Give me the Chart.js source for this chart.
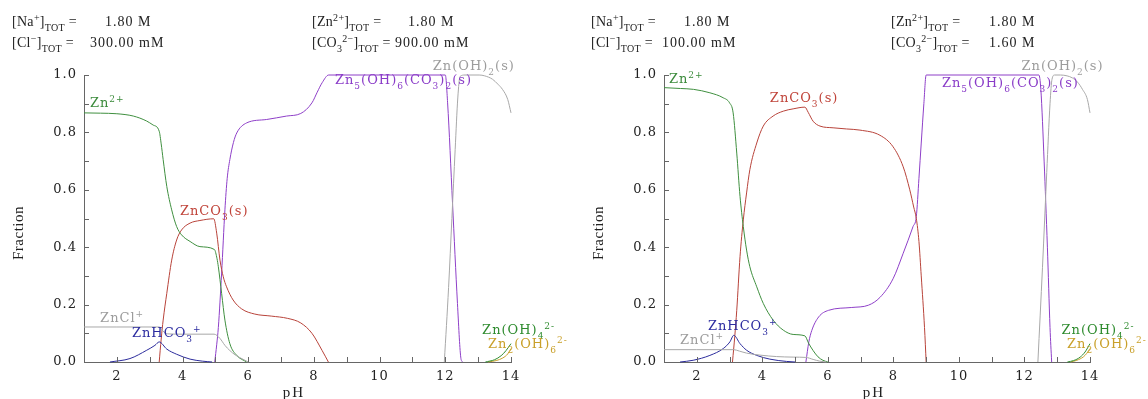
<!DOCTYPE html>
<html><head><meta charset="utf-8">
<script src="https://cdn.jsdelivr.net/npm/chart.js@4.4.0/dist/chart.umd.min.js"></script>
<style>
html,body{margin:0;padding:0;background:#fff;overflow:hidden;width:1148px;height:399px;}
.c{position:absolute;top:0;height:399px;}
</style></head><body>
<div class="c" style="left:0;width:574px"><canvas id="left" width="574" height="399"></canvas></div>
<div class="c" style="left:580px;width:568px"><canvas id="right" width="568" height="399"></canvas></div>
<script>
// ---------- tick labels ----------
const xTickLabels = [2, 4, 6, 8, 10, 12, 14];
const yTickLabels = [0.0, 0.2, 0.4, 0.6, 0.8, 1.0];

// ---------- header values ----------
const leftHeaderValues  = ['1.80 M', '300.00 mM', '1.80 M', '900.00 mM'];
const rightHeaderValues = ['1.80 M', '100.00 mM', '1.80 M', '1.60 M'];

// ---------- left chart series: [pH, fraction] ----------
const L_Zn2 = [[1,0.868],[1.5,0.867],[2,0.865],[2.5,0.857],[2.9,0.84],[3.1,0.826],[3.29,0.804],[3.35,0.76],[3.41,0.705],[3.52,0.612],[3.67,0.53],[3.82,0.472],[3.97,0.443],[4.23,0.42],[4.53,0.402],[4.97,0.392],[5.05,0.36],[5.09,0.332],[5.19,0.239],[5.29,0.146],[5.44,0.064],[5.65,0.023],[5.95,0]];
const L_ZnCO3 = [[3.29,0],[3.35,0.08],[3.41,0.146],[3.52,0.239],[3.67,0.355],[3.82,0.425],[3.97,0.46],[4.23,0.484],[4.53,0.493],[4.95,0.499],[5.04,0.449],[5.14,0.355],[5.24,0.297],[5.34,0.262],[5.54,0.216],[5.8,0.185],[6.2,0.167],[6.7,0.16],[7.2,0.152],[7.6,0.136],[7.94,0.1],[8.25,0.04],[8.44,0]];
const L_Zn5 = [[4.98,0],[5.04,0.06],[5.09,0.12],[5.19,0.31],[5.29,0.53],[5.36,0.64],[5.44,0.705],[5.55,0.765],[5.65,0.798],[5.95,0.833],[6.56,0.845],[7.17,0.857],[7.6,0.866],[7.94,0.903],[8.1,0.94],[8.25,0.973],[8.45,1.0],[12.0,1.0],[12.07,0.903],[12.22,0.553],[12.37,0.204],[12.47,0.017],[12.52,0]];
const L_ZnOH2s = [[11.97,0],[12.1,0.26],[12.2,0.5],[12.3,0.74],[12.38,0.92],[12.45,0.995],[12.6,1.0],[13.03,1.0],[13.2,0.997],[13.44,0.985],[13.6,0.968],[13.74,0.95],[13.9,0.915],[14,0.868]];
const L_ZnCl = [[1,0.122],[2,0.122],[3.29,0.122],[3.4,0.108],[3.55,0.098],[4,0.097],[4.96,0.097],[5.14,0.082],[5.29,0.058],[5.44,0.04],[5.6,0.025],[5.75,0.015],[6.0,0]];
const L_ZnHCO3 = [[1.79,0],[2.4,0.012],[2.91,0.041],[3.16,0.058],[3.29,0.07],[3.52,0.045],[3.82,0.027],[4.23,0.01],[4.6,0.003],[4.9,0]];
const L_ZnOH4 = [[13.22,0],[13.5,0.008],[13.7,0.022],[13.85,0.04],[14,0.064]];
const L_Zn2OH6 = [[13.3,0],[13.55,0.005],[13.75,0.014],[13.9,0.028],[14,0.047]];

// ---------- right chart series ----------
const R_Zn2 = [[1,0.956],[1.5,0.953],[1.9,0.95],[2.4,0.938],[2.8,0.921],[3.0,0.903],[3.11,0.868],[3.22,0.728],[3.32,0.577],[3.42,0.472],[3.52,0.39],[3.62,0.332],[3.83,0.262],[4.03,0.204],[4.33,0.146],[4.64,0.111],[4.94,0.096],[5.3,0.091],[5.41,0.066],[5.55,0.04],[5.7,0.018],[5.85,0.006],[6.0,0]];
const R_ZnCO3 = [[3.09,0],[3.16,0.09],[3.22,0.18],[3.32,0.367],[3.42,0.495],[3.52,0.589],[3.62,0.67],[3.83,0.763],[4.03,0.822],[4.33,0.857],[4.64,0.874],[4.94,0.882],[5.3,0.888],[5.4,0.87],[5.55,0.839],[5.76,0.822],[6.16,0.816],[6.57,0.812],[6.98,0.808],[7.59,0.79],[7.99,0.75],[8.3,0.68],[8.5,0.6],[8.62,0.54],[8.7,0.5],[8.78,0.42],[8.85,0.3],[8.95,0.12],[9.0,0]];
const R_Zn5 = [[5.33,0],[5.42,0.07],[5.51,0.11],[5.72,0.157],[6.02,0.18],[6.73,0.19],[7.24,0.198],[7.59,0.225],[7.99,0.29],[8.3,0.379],[8.6,0.472],[8.7,0.507],[8.78,0.64],[8.85,0.763],[8.93,0.9],[9.0,1.0],[12.44,1.0],[12.5,0.95],[12.6,0.7],[12.7,0.4],[12.78,0.12],[12.83,0]];
const R_ZnOH2s = [[12.41,0],[12.55,0.33],[12.68,0.66],[12.78,0.9],[12.84,0.985],[12.92,1.0],[13.1,1.0],[13.3,0.997],[13.46,0.99],[13.62,0.975],[13.77,0.95],[13.92,0.915],[14,0.868]];
const R_ZnCl = [[1,0.043],[2,0.043],[3.13,0.043],[3.3,0.038],[3.52,0.031],[3.93,0.024],[4.43,0.019],[4.94,0.017],[5.33,0.016],[5.55,0.009],[5.75,0.003],[5.96,0]];
const R_ZnHCO3 = [[1.49,0],[1.89,0.006],[2.4,0.023],[2.81,0.047],[3.01,0.07],[3.13,0.093],[3.32,0.064],[3.52,0.041],[3.83,0.023],[4.23,0.01],[4.74,0.002],[5.0,0]];
const R_ZnOH4 = [[13.31,0],[13.5,0.005],[13.7,0.017],[13.85,0.035],[14,0.064]];
const R_Zn2OH6 = [[13.41,0],[13.6,0.006],[13.8,0.018],[13.9,0.03],[14,0.047]];

// ---------- colours ----------
const C = {
  zn2: '#3f8f3f', znco3: '#b8433a', zn5: '#8e3fc8', gray: '#a8a8a8',
  hco3: '#2b2b9c', oh4: '#2e8b2e', oh6: '#c9a02a', axis: '#666666', text: '#222222'
};

const FONT = '"DejaVu Serif", "Liberation Serif", serif';
const HFONT = '"Liberation Serif", "DejaVu Serif", serif';

// species label definitions (anchor in data coords)
const leftLabels = [
  {x:1.18, y:0.887, c:'#3a8a3a', p:[['Zn','n'],['2+','p']]},
  {x:3.92, y:0.513, c:'#c0443a', p:[['ZnCO','n'],['3','b'],['(s)','n']]},
  {x:1.49, y:0.140, c:'#9c9c9c', p:[['ZnCl','n'],['+','p']]},
  {x:2.46, y:0.087, c:'#2c2ca0', p:[['ZnHCO','n'],['3','b'],['+','p']]},
  {x:8.64, y:0.967, c:'#8a3cc8', p:[['Zn','n'],['5','b'],['(OH)','n'],['6','b'],['(CO','n'],['3','b'],[')','n'],['2','b'],['(s)','n']]},
  {x:11.62, y:1.016, c:'#9c9c9c', p:[['Zn(OH)','n'],['2','b'],['(s)','n']]},
  {x:13.12, y:0.097, c:'#2e8b2e', p:[['Zn(OH)','n'],['4','b'],['2-','p']]},
  {x:13.30, y:0.048, c:'#c9a02a', p:[['Zn','n'],['2','b'],['(OH)','n'],['6','b'],['2-','p']]}
];
const rightLabels = [
  {x:1.15, y:0.973, c:'#3a8a3a', p:[['Zn','n'],['2+','p']]},
  {x:4.23, y:0.905, c:'#c0443a', p:[['ZnCO','n'],['3','b'],['(s)','n']]},
  {x:1.49, y:0.062, c:'#9c9c9c', p:[['ZnCl','n'],['+','p']]},
  {x:2.34, y:0.111, c:'#2c2ca0', p:[['ZnHCO','n'],['3','b'],['+','p']]},
  {x:9.48, y:0.957, c:'#8a3cc8', p:[['Zn','n'],['5','b'],['(OH)','n'],['6','b'],['(CO','n'],['3','b'],[')','n'],['2','b'],['(s)','n']]},
  {x:11.91, y:1.016, c:'#9c9c9c', p:[['Zn(OH)','n'],['2','b'],['(s)','n']]},
  {x:13.13, y:0.097, c:'#2e8b2e', p:[['Zn(OH)','n'],['4','b'],['2-','p']]},
  {x:13.30, y:0.048, c:'#c9a02a', p:[['Zn','n'],['2','b'],['(OH)','n'],['6','b'],['2-','p']]}
];

const headerKeys = [
  [['[Na','n'],['+','p'],[']','n'],['TOT','b'],[' =','n']],
  [['[Cl','n'],['\u2212','p'],[']','n'],['TOT','b'],[' =','n']],
  [['[Zn','n'],['2+','p'],[']','n'],['TOT','b'],[' =','n']],
  [['[CO','n'],['3','b'],['2\u2212','p'],[']','n'],['TOT','b'],[' =','n']]
];

function drawRich(ctx, x, y, parts, color, size, spacing, subDy, supDy, family) {
  ctx.save();
  ctx.fillStyle = color;
  ctx.textBaseline = 'alphabetic';
  ctx.textAlign = 'left';
  try { ctx.letterSpacing = spacing + 'px'; } catch(e) {}
  let cx = x;
  for (const [t, k] of parts) {
    const fs = k === 'n' ? size : Math.round(size * 0.72);
    ctx.font = fs + 'px ' + (family || FONT);
    const dy = k === 'b' ? subDy : (k === 'p' ? supDy : 0);
    ctx.fillText(t, cx, y + dy);
    cx += ctx.measureText(t).width;
  }
  ctx.restore();
}

function makeChart(id, series, labels, header, padRight) {
  const ds = series.map(s => ({
    data: s.d.map(p => ({x: p[0], y: p[1]})),
    borderColor: s.c, borderWidth: 1, pointRadius: 0, fill: false,
    cubicInterpolationMode: 'monotone', clip: false
  }));
  const decor = {
    id: 'decor',
    beforeDraw(chart) { try { chart.ctx.letterSpacing = '1px'; } catch(e) {} },
    afterDraw(chart) {
      const ctx = chart.ctx, xs = chart.scales.x, ys = chart.scales.y;
      // inward tick marks
      ctx.save();
      try { ctx.letterSpacing = '0px'; } catch(e) {}
      ctx.strokeStyle = C.axis; ctx.lineWidth = 1;
      ctx.beginPath();
      xs.ticks.forEach(t => {
        const px = Math.round(xs.getPixelForValue(t.value)) + 0.5;
        ctx.moveTo(px, ys.bottom); ctx.lineTo(px, ys.bottom - 5);
      });
      ys.ticks.forEach(t => {
        const py = Math.round(ys.getPixelForValue(t.value)) + 0.5;
        ctx.moveTo(xs.left, py); ctx.lineTo(xs.left + 5, py);
      });
      ctx.stroke();
      // axis titles
      ctx.fillStyle = C.text;
      ctx.font = '15px ' + HFONT;
      ctx.textAlign = 'center';
      ctx.textBaseline = 'middle';
      ctx.save();
      ctx.translate(19, 233);
      ctx.rotate(-Math.PI / 2);
      try { ctx.letterSpacing = '0.5px'; } catch(e) {}
      ctx.fillText('Fraction', 0, 0);
      ctx.restore();
      try { ctx.letterSpacing = '2px'; } catch(e) {}
      ctx.textBaseline = 'alphabetic';
      ctx.fillText('pH', 294, 397);
      ctx.restore();
      // species labels
      labels.forEach(l => {
        drawRich(ctx, xs.getPixelForValue(l.x), ys.getPixelForValue(l.y), l.p, l.c, 13, 1, 5, -5);
      });
      // header
      header.forEach(h => {
        drawRich(ctx, h.kx, h.y, headerKeys[h.k], C.text, 14, 0.3, 5, -5, HFONT);
        drawRich(ctx, h.vx, h.y, [[h.v, 'n']], C.text, 14, 1, 0, 0, HFONT);
      });
    }
  };
  return new Chart(document.getElementById(id), {
    type: 'line',
    data: { datasets: ds },
    options: {
      responsive: false, animation: false, events: [],
      layout: { padding: { left: 0, right: padRight, top: 75, bottom: 0 } },
      plugins: { legend: { display: false }, tooltip: { enabled: false } },
      scales: {
        x: {
          type: 'linear', min: 1, max: 14,
          grid: { display: false, drawTicks: false },
          border: { display: true, color: C.axis, width: 1 },
          ticks: {
            stepSize: 1, autoSkip: false, maxRotation: 0, padding: 7,
            color: C.text, font: { family: FONT, size: 13 },
            callback: v => xTickLabels.includes(v) ? String(v) : ''
          },
          afterFit: s => { s.height = 37; }
        },
        y: {
          type: 'linear', min: 0, max: 1,
          grid: { display: false, drawTicks: false },
          border: { display: true, color: C.axis, width: 1 },
          ticks: {
            stepSize: 0.1, autoSkip: false, padding: 7,
            color: C.text, font: { family: FONT, size: 13 },
            callback: v => yTickLabels.some(t => Math.abs(t - v) < 1e-6) ? v.toFixed(1) : ''
          },
          afterFit: s => { s.width = 84; }
        }
      }
    },
    plugins: [decor]
  });
}

makeChart('left', [
  {d: L_ZnCl, c: C.gray}, {d: L_ZnOH2s, c: C.gray}, {d: L_ZnHCO3, c: C.hco3},
  {d: L_ZnOH4, c: C.oh4}, {d: L_Zn2OH6, c: C.oh6},
  {d: L_Zn2, c: C.zn2}, {d: L_ZnCO3, c: C.znco3}, {d: L_Zn5, c: C.zn5}
], leftLabels, [
  {k:0, kx:12, vx:105, v:leftHeaderValues[0], y:26},
  {k:1, kx:12, vx:90,  v:leftHeaderValues[1], y:47},
  {k:2, kx:312, vx:408, v:leftHeaderValues[2], y:26},
  {k:3, kx:312, vx:395, v:leftHeaderValues[3], y:47}
], 63);

makeChart('right', [
  {d: R_ZnCl, c: C.gray}, {d: R_ZnOH2s, c: C.gray}, {d: R_ZnHCO3, c: C.hco3},
  {d: R_ZnOH4, c: C.oh4}, {d: R_Zn2OH6, c: C.oh6},
  {d: R_Zn2, c: C.zn2}, {d: R_ZnCO3, c: C.znco3}, {d: R_Zn5, c: C.zn5}
], rightLabels, [
  {k:0, kx:11, vx:104, v:rightHeaderValues[0], y:26},
  {k:1, kx:11, vx:82,  v:rightHeaderValues[1], y:47},
  {k:2, kx:311, vx:409, v:rightHeaderValues[2], y:26},
  {k:3, kx:311, vx:409, v:rightHeaderValues[3], y:47}
], 58);
</script>
</body></html>
